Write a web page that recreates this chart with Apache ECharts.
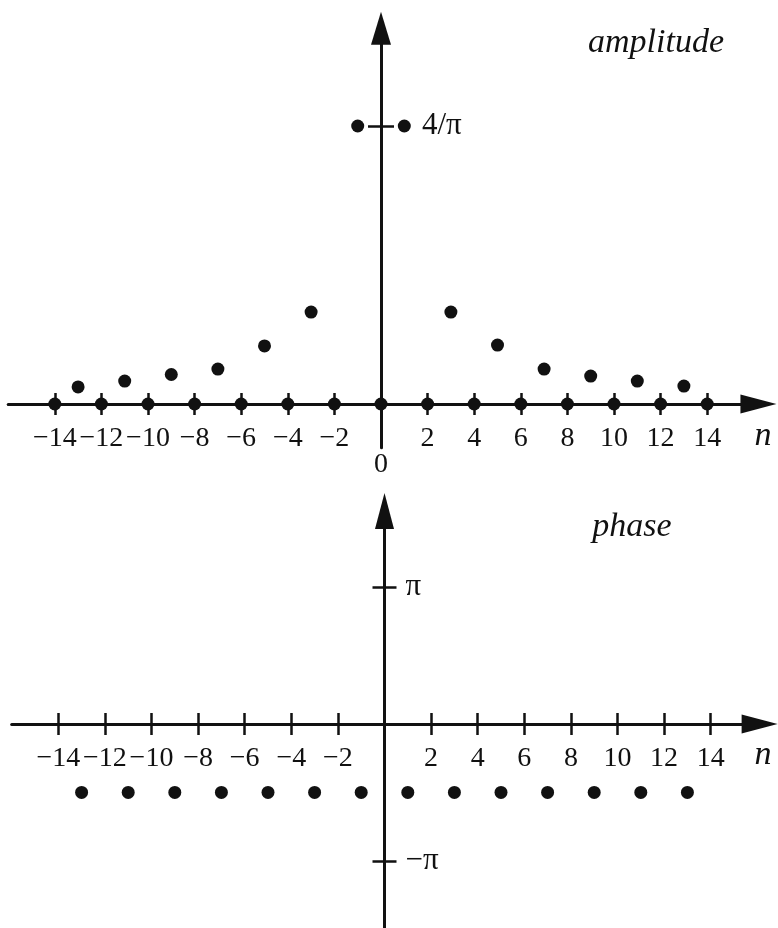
<!DOCTYPE html>
<html><head><meta charset="utf-8">
<script src="https://cdn.jsdelivr.net/npm/echarts@6/dist/echarts.min.js"></script>
<style>html,body{margin:0;padding:0;background:#fff}#c{width:778px;height:928px}</style>
</head><body><div id="c"></div>
<script>
// ---- data ----
const ampN = [-14,-13,-12,-11,-10,-9,-8,-7,-6,-5,-4,-3,-2,-1,0,1,2,3,4,5,6,7,8,9,10,11,12,13,14];
const ampValues = [0,0.078,0,0.105,0,0.135,0,0.16,0,0.266,0,0.421,0,1.273,0,1.273,0,0.421,0,0.27,0,0.16,0,0.128,0,0.105,0,0.082,0];
const ampXTicks = [-14,-12,-10,-8,-6,-4,-2,2,4,6,8,10,12,14];
const ampXLabels = [-14,-12,-10,-8,-6,-4,-2,0,2,4,6,8,10,12,14];
const ampYTicks = [1.2732];
const ampYTickLabels = ['4/π'];

const phaseN = [-13,-11,-9,-7,-5,-3,-1,1,3,5,7,9,11,13];
const phaseValues = [-1.57,-1.57,-1.57,-1.57,-1.57,-1.57,-1.57,-1.57,-1.57,-1.57,-1.57,-1.57,-1.57,-1.57];
const phaseXTicks = [-14,-12,-10,-8,-6,-4,-2,2,4,6,8,10,12,14];
const phaseYTicks = [3.1416, -3.1416];
const phaseYTickLabels = ['π', '−π'];

// ---- layout ----
const INK = '#111111';
const FONT = '"Liberation Serif", "Times New Roman", serif';
const P = [
  {zx:381, zy:404, sx:23.3, sy:218.4, xMin:-16, xMax:16.2, yMin:-0.2, yMax:1.72},
  {zx:384.5, zy:724, sx:23.3, sy:43.6, xMin:-16, xMax:16.1, yMin:-4.7, yMax:4.885}
];
function rectOf(p){
  return {left:p.zx+p.xMin*p.sx, right:p.zx+p.xMax*p.sx, top:p.zy-p.yMax*p.sy, bottom:p.zy-p.yMin*p.sy};
}
const R = P.map(rectOf);

const xFmt = v => v < 0 ? '−' + (-v) : (v === 0 ? '\n0' : String(v));
function nearestLabel(vals, labels){
  return v => { let bi=0, bd=Infinity; vals.forEach((t,i)=>{const d=Math.abs(t-v); if(d<bd){bd=d;bi=i;}}); return labels[bi]; };
}

function xAxes(gi, p, r, ticks, labels){
  return [
    {gridIndex:gi, type:'value', min:p.xMin, max:p.xMax, position:'bottom', offset:-(r.bottom-p.zy),
     axisLine:{show:true, onZero:false, symbol:['none','triangle'], symbolSize:[19,36], lineStyle:{color:INK, width:3}},
     axisTick:{show:true, inside:false, length:11, customValues:ticks, lineStyle:{color:INK, width:2.5}},
     axisLabel:{show:true, customValues:labels, formatter:xFmt, margin:22, color:INK, fontFamily:FONT, fontSize:28, lineHeight:26, hideOverlap:false},
     splitLine:{show:false}, splitArea:{show:false}},
    {gridIndex:gi, type:'value', min:p.xMin, max:p.xMax, position:'top', offset:-(p.zy-r.top),
     axisLine:{show:false, onZero:false},
     axisTick:{show:true, inside:false, length:11, customValues:ticks, lineStyle:{color:INK, width:2.5}},
     axisLabel:{show:false}, splitLine:{show:false}, splitArea:{show:false}}
  ];
}
function yAxes(gi, p, r, ticks, labelFn, labelMargin, tickLen, arrow){
  return [
    {gridIndex:gi, type:'value', min:p.yMin, max:p.yMax, position:'left', offset:-(p.zx-r.left),
     axisLine:{show:true, onZero:false, symbol:['none','triangle'], symbolSize:arrow, lineStyle:{color:INK, width:3}},
     axisTick:{show:true, inside:false, length:tickLen, customValues:ticks, lineStyle:{color:INK, width:2.5}},
     axisLabel:{show:false}, splitLine:{show:false}, splitArea:{show:false}},
    {gridIndex:gi, type:'value', min:p.yMin, max:p.yMax, position:'right', offset:-(r.right-p.zx),
     axisLine:{show:false, onZero:false},
     axisTick:{show:true, inside:false, length:tickLen, customValues:ticks, lineStyle:{color:INK, width:2.5}},
     axisLabel:{show:true, customValues:ticks, formatter:labelFn, margin:labelMargin, color:INK, fontFamily:FONT, fontSize:31, hideOverlap:false},
     splitLine:{show:false}, splitArea:{show:false}}
  ];
}

const chart = echarts.init(document.getElementById('c'), null, {renderer:'canvas'});
chart.setOption({
  animation:false,
  backgroundColor:'#ffffff',
  grid: R.map(r => ({left:r.left, top:r.top, width:r.right-r.left, height:r.bottom-r.top, containLabel:false, outerBoundsMode:'none'})),
  xAxis: [...xAxes(0, P[0], R[0], ampXTicks, ampXLabels), ...xAxes(1, P[1], R[1], phaseXTicks, phaseXTicks)],
  yAxis: [...yAxes(0, P[0], R[0], ampYTicks, nearestLabel(ampYTicks, ampYTickLabels), 41, 13, [20,33]),
          ...yAxes(1, P[1], R[1], phaseYTicks, nearestLabel(phaseYTicks, phaseYTickLabels), 21, 12, [19,36])],
  series: [
    {type:'scatter', name:'amplitude', xAxisIndex:0, yAxisIndex:0, symbol:'circle', symbolSize:13,
     itemStyle:{color:INK, opacity:1}, data: ampN.map((n,i)=>[n, ampValues[i]]), z:5},
    {type:'scatter', name:'phase', xAxisIndex:2, yAxisIndex:2, symbol:'circle', symbolSize:13,
     itemStyle:{color:INK, opacity:1}, data: phaseN.map((n,i)=>[n, phaseValues[i]]), z:5}
  ],
  graphic: [
    {type:'text', x:656, y:43, style:{text:'amplitude', font:'italic 34px "Liberation Serif"', fill:INK, textAlign:'center', textVerticalAlign:'middle'}},
    {type:'text', x:632, y:527, style:{text:'phase', font:'italic 34px "Liberation Serif"', fill:INK, textAlign:'center', textVerticalAlign:'middle'}},
    {type:'text', x:763, y:436, style:{text:'n', font:'italic 34px "Liberation Serif"', fill:INK, textAlign:'center', textVerticalAlign:'middle'}},
    {type:'text', x:763, y:755, style:{text:'n', font:'italic 34px "Liberation Serif"', fill:INK, textAlign:'center', textVerticalAlign:'middle'}}
  ]
});
</script>
</body></html>
